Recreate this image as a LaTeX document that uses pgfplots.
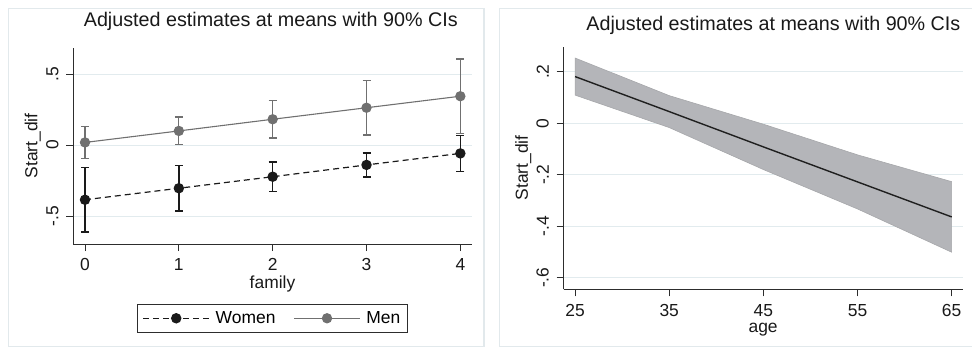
\documentclass[border=0pt]{standalone}
\usepackage{fontspec}
\setmainfont{Liberation Sans}
\usepackage{pgfplots}
\pgfplotsset{compat=1.18}

\definecolor{women}{RGB}{26,26,26}
\definecolor{men}{RGB}{112,112,112}
\definecolor{gridc}{RGB}{226,235,238}
\definecolor{framec}{RGB}{226,233,236}
\definecolor{band}{RGB}{180,181,185}
\definecolor{axisc}{RGB}{45,45,45}

\pgfplotsset{
  statastyle/.style={
    scale only axis,
    axis x line*=bottom, axis y line*=left,
    axis line style={axisc, line width=1bp, -},
    tick style={axisc, line width=1bp},
    tick align=outside,
    major tick length=7bp,
    ymajorgrids,
    grid style={gridc, line width=1bp},
    tick label style={font=\fontsize{17.5}{20}\selectfont, text=black!90, inner sep=1bp},
    label style={font=\fontsize{17.5}{20}\selectfont, text=black!90, inner sep=1bp},
    title style={font=\fontsize{19.8}{23}\selectfont, text=black!90, anchor=center},
    /pgf/number format/assume math mode=true,
    yticklabel style={rotate=90, anchor=south},
    yticklabel shift=6.5bp,
    minor tick num=0,
    clip=false,
  }
}

\begin{document}
\begin{tikzpicture}
\useasboundingbox (0bp,0bp) rectangle (972bp,349bp);
% panel frames
\draw[framec, line width=1.5bp] (8.3bp,2.3bp) rectangle (484bp,340.7bp);
\draw[framec, line width=1.5bp] (499.3bp,2.3bp) rectangle (990bp,340.7bp);

% ---- left panel: predictions by family, women vs men ----
\begin{axis}[statastyle,
  at={(73.3bp,105bp)}, anchor=south west,
  width=398.4bp, height=196bp,
  xmin=-0.1247, xmax=4.121, ymin=-0.695, ymax=0.683,
  xtick={0,1,2,3,4},
  xticklabel shift=6.5bp,
  ytick={-0.5,0,0.5}, yticklabels={-.5,0,.5},
  xlabel={family}, ylabel={Start\_dif},
  xlabel style={at={(axis description cs:0.5,-0.205)}, anchor=center},
  ylabel style={at={(axis description cs:-0.1016,0.5)}, anchor=center},
  title={Adjusted estimates at means with 90\% CIs},
  title style={at={(axis description cs:0.5,1)}, yshift=20.3bp, xshift=-1.7bp},
  legend columns=2,
  legend image code/.code={\draw[mark repeat=2,mark phase=2,#1] plot coordinates {(0bp,0bp) (33bp,0bp) (66bp,0bp)};},
  legend style={at={(axis description cs:0.5,-0.379)}, anchor=center,
    draw=axisc, line width=1bp, fill=white,
    inner xsep=5.1bp, inner ysep=5bp,
    font=\fontsize{17.5}{20}\selectfont,
    /tikz/every odd column/.append style={column sep=3.9bp},
    /tikz/every even column/.append style={column sep=16bp}},
]
\addplot[women, dash pattern=on 6bp off 4bp, line width=1.2bp,
  mark=*, mark size=4.6bp, mark options={solid, fill=women},
  error bars/.cd, y dir=both, y explicit,
  error bar style={solid, line width=1.5bp, women},
  error mark options={rotate=90, mark size=4bp, line width=1.5bp, women, solid}]
  coordinates {
  (0,-0.384) +- (0,0.228)
  (1,-0.303) +- (0,0.161)
  (2,-0.222) +- (0,0.103)
  (3,-0.139) +- (0,0.085)
  (4,-0.058) +- (0,0.127)
  };
\addlegendentry{Women}
\addplot[men, solid, line width=1.1bp,
  mark=*, mark size=4.6bp, mark options={solid, fill=men},
  error bars/.cd, y dir=both, y explicit,
  error bar style={solid, line width=1.3bp, men},
  error mark options={rotate=90, mark size=4bp, line width=1.3bp, men}]
  coordinates {
  (0,0.019) +- (0,0.112)
  (1,0.100) +- (0,0.097)
  (2,0.182) +- (0,0.132)
  (3,0.263) +- (0,0.192)
  (4,0.344) +- (0,0.262)
  };
\addlegendentry{Men}
\end{axis}

% ---- right panel: predictions by age with confidence band ----
\begin{axis}[statastyle,
  at={(563.5bp,59.7bp)}, anchor=south west,
  width=399.2bp, height=242.6bp,
  xmin=23.77, xmax=66.17, ymin=-0.645, ymax=0.297,
  xtick={25,35,45,55,65},
  xticklabel shift=7.3bp,
  ytick={-0.6,-0.4,-0.2,0,0.2}, yticklabels={-.6,-.4,-.2,0,.2},
  xlabel={age}, ylabel={Start\_dif},
  xlabel style={at={(axis description cs:0.5,-0.167)}, anchor=center},
  ylabel style={at={(axis description cs:-0.1005,0.5)}, anchor=center},
  title={Adjusted estimates at means with 90\% CIs},
  title style={at={(axis description cs:0.5,1)}, yshift=15bp, xshift=10.3bp},
]
% 90% confidence band: upper limits left to right, lower limits back
\addplot[fill=band, draw=band!92!black, line width=0.6bp] coordinates {
  (25,0.253) (35,0.107) (45,-0.004) (55,-0.123) (65,-0.227)
  (65,-0.501) (55,-0.333) (45,-0.180) (35,-0.017) (25,0.109)} -- cycle;
\addplot[black!88, line width=1.4bp] coordinates {
  (25,0.181) (35,0.045) (45,-0.092) (55,-0.228) (65,-0.364)};
\end{axis}
\end{tikzpicture}
\end{document}
